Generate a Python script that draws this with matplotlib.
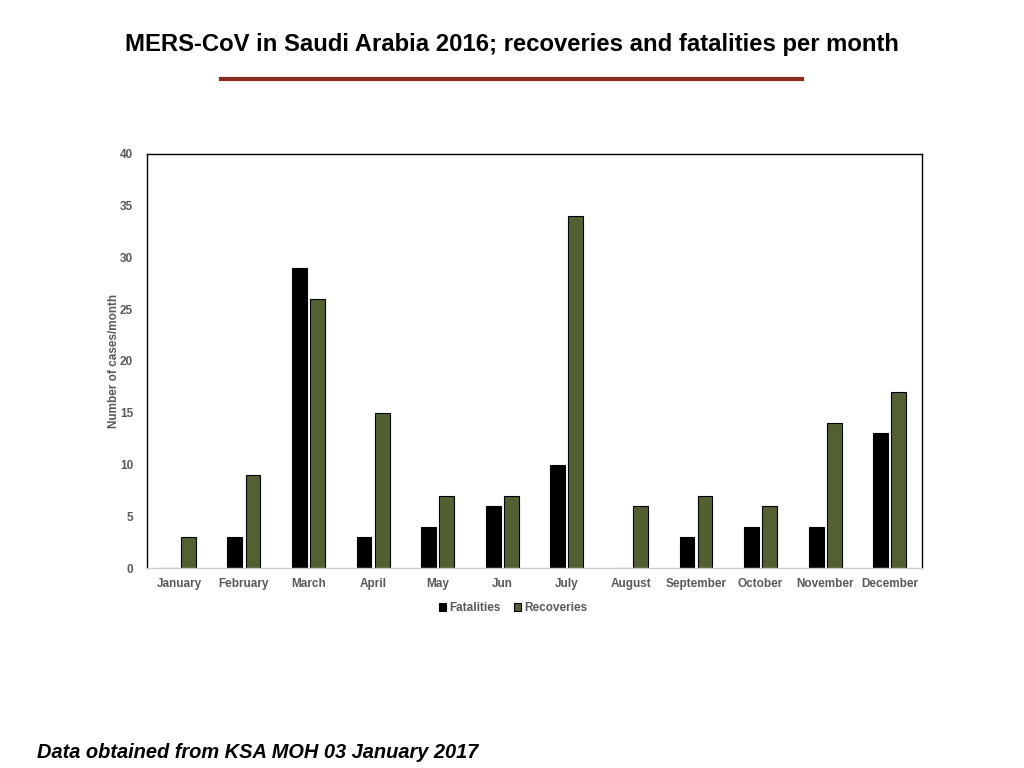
import matplotlib
matplotlib.use("Agg")
import matplotlib.pyplot as plt
import numpy as np

months = ["January", "February", "March", "April", "May", "Jun", "July",
          "August", "September", "October", "November", "December"]
fatalities = [0, 3, 29, 3, 4, 6, 10, 0, 3, 4, 4, 13]
recoveries = [3, 9, 26, 15, 7, 7, 34, 6, 7, 6, 14, 17]

plt.rcParams['font.family'] = ['Liberation Sans', 'DejaVu Sans']

fig = plt.figure(figsize=(10.24, 7.68), dpi=100)
ax = fig.add_axes([0.1436, 0.2604, 0.7568, 0.5391])

x = np.arange(len(months))
w = 0.23
gap = 0.025
ax.bar(x - w/2 - gap, fatalities, w, color='black', edgecolor='black', linewidth=0.8, label='Fatalities')
ax.bar(x + w/2 + gap, recoveries, w, color='#556032', edgecolor='black', linewidth=0.8, label='Recoveries')

ax.set_xlim(-0.5, len(months) - 0.5)
ax.set_ylim(0, 40)
ax.set_yticks(range(0, 41, 5))
ax.set_xticks(x)
ax.set_xticklabels(months)
ax.tick_params(axis='both', length=0, colors='#595959', labelsize=8.5)
for lbl in ax.get_xticklabels() + ax.get_yticklabels():
    lbl.set_fontweight('bold')
ax.tick_params(axis='x', pad=7)
ax.tick_params(axis='y', pad=10)

for s in ['top', 'left', 'right']:
    ax.spines[s].set_color('black')
    ax.spines[s].set_linewidth(1.0)
ax.spines['bottom'].set_color('#d0d0d0')
ax.spines['bottom'].set_linewidth(1.0)

ax.set_ylabel('Number of cases/month', fontsize=8.5, fontweight='bold', color='#595959', labelpad=0)

leg = fig.legend(*ax.get_legend_handles_labels(), loc='center', bbox_to_anchor=(513/1024, 1 - 608/768),
                 ncol=2, frameon=False, fontsize=8.5, handlelength=0.6, handleheight=0.6,
                 handletextpad=0.3, columnspacing=1.1)
for t in leg.get_texts():
    t.set_color('#595959')
    t.set_fontweight('bold')

fig.text(0.5, 1 - 45/768, 'MERS-CoV in Saudi Arabia 2016; recoveries and fatalities per month',
         ha='center', va='center', fontsize=17.2, fontweight='bold', color='black')
fig.add_artist(plt.Line2D([221/1024, 802/1024], [1 - 79/768, 1 - 79/768], color='#8B2A1E', linewidth=3))

fig.text(37/1024, 1 - 752/768, 'Data obtained from KSA MOH 03 January 2017',
         ha='left', va='center', fontsize=14.4, fontweight='bold', fontstyle='italic', color='black')

fig.savefig('out.png', dpi=100)
